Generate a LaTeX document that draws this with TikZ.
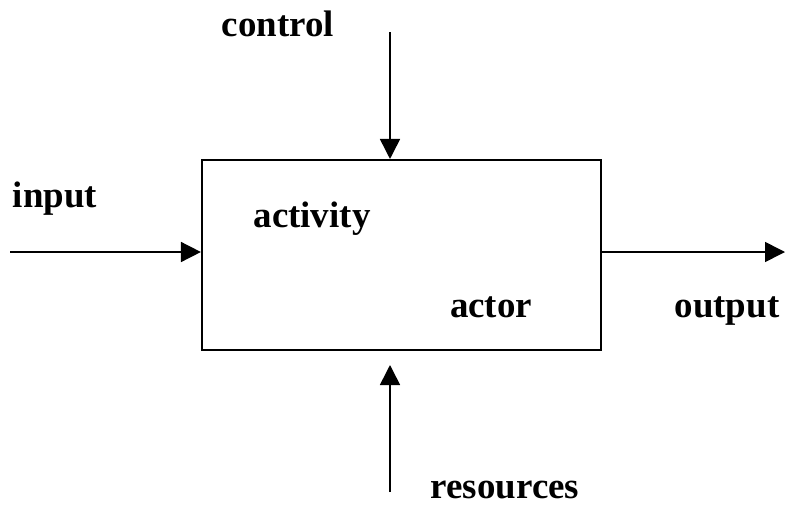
\documentclass[tikz,border=0pt]{standalone}
\usepackage{fontspec}
\setmainfont{Liberation Serif}
\usetikzlibrary{arrows.meta,positioning}

\begin{document}
\begin{tikzpicture}[x=0.01cm,y=-0.01cm,
		lbl/.style={font=\fontsize{10.5}{12}\selectfont\bfseries, inner sep=0pt, anchor=base},
		flow/.style={line width=0.45pt, -{Triangle[length=0.2cm,width=0.2cm]}}]
			\useasboundingbox (0,0) rectangle (785,506);
			\node[draw, line width=0.55pt, minimum width=3.99cm, minimum height=1.9cm, inner sep=0pt] (act) at (401.5,255) {};
			% labels
			\node[lbl] (lcontrol) at (278,37) {control};
			\node[lbl] (linput) at (55,207) {input};
			\node[lbl] (lactivity) at (312,227) {activity};
			\node[lbl] (lactor) at (491,317) {actor};
			\node[lbl] (loutput) at (727,317) {output};
			\node[lbl] (lres) at (505,498) {resources};
			% arrow ends
			\coordinate (ctop) at (390,32);
			\coordinate (iin) at (10,252);
			\coordinate (oout) at (785,252);
			\coordinate (rbot) at (390,492);
			\coordinate (rtip) at (390,365);
			\draw[flow] (ctop) -- (ctop |- act.north);
			\draw[flow] (iin) -- (iin -| act.west);
			\draw[flow] (oout -| act.east) -- (oout);
			\draw[flow] (rbot) -- (rtip);
		\end{tikzpicture}
\end{document}
